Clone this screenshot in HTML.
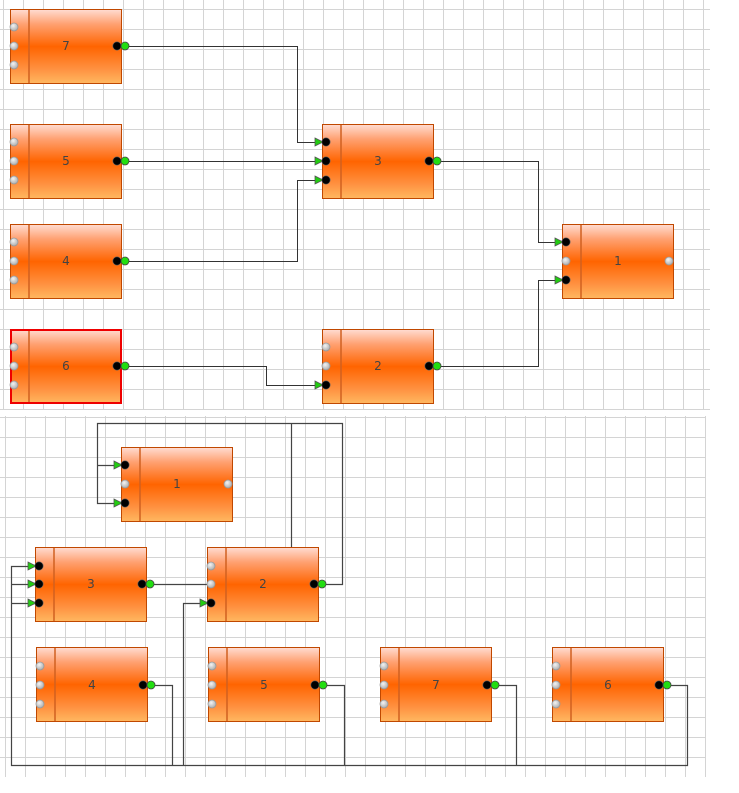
<!DOCTYPE html>
<html><head><meta charset="utf-8"><style>
html,body{margin:0;padding:0;background:#fff;width:739px;height:793px;overflow:hidden}
svg{display:block}
text{font-family:"DejaVu Sans","Liberation Sans",sans-serif;font-size:12px;fill:#444}
</style></head><body>
<svg width="739" height="793" viewBox="0 0 739 793" xmlns="http://www.w3.org/2000/svg">
<defs>
<pattern id="g1" x="3" y="9" width="20" height="20" patternUnits="userSpaceOnUse">
<path d="M0.5 0V20M0 0.5H20" stroke="#d4d4d4" stroke-width="1" fill="none"/>
</pattern>
<pattern id="g2" x="5" y="417" width="20" height="20" patternUnits="userSpaceOnUse">
<path d="M0.5 0V20M0 0.5H20" stroke="#d4d4d4" stroke-width="1" fill="none"/>
</pattern>
<linearGradient id="og" x1="0" y1="0" x2="0" y2="1">
<stop offset="0" stop-color="#ffdcd2"/>
<stop offset="0.2" stop-color="#ffa070"/>
<stop offset="0.5" stop-color="#ff6400"/>
<stop offset="0.8" stop-color="#ff9040"/>
<stop offset="1" stop-color="#ffb860"/>
</linearGradient>
<radialGradient id="gg" cx="0.4" cy="0.35" r="0.7">
<stop offset="0" stop-color="#f4f4f4"/><stop offset="1" stop-color="#a8a8a8"/>
</radialGradient>
<g id="node">
<rect x="0.5" y="0.5" width="111" height="74" fill="url(#og)" stroke="#c04800" stroke-width="1"/>
<line x1="19" y1="1" x2="19" y2="74" stroke="#d06020" stroke-width="1.5"/>
</g>
<circle id="gp" r="4" fill="url(#gg)" stroke="#999" stroke-width="0.8"/>
<circle id="bp" r="4.2" fill="#000" stroke="#666" stroke-width="0.6"/>
<circle id="gr" r="4" fill="#22dd11" stroke="#444" stroke-width="0.8"/>
<path id="ar" d="M-11 -4L-3 0L-11 4Z" fill="#22cc11" stroke="#555" stroke-width="0.8"/>
</defs>

<rect x="0" y="0" width="710" height="410" fill="url(#g1)"/>
<rect x="0" y="416" width="706" height="361" fill="url(#g2)"/>

<g fill="none" stroke="#333" stroke-width="1">
<path d="M125 46.5H297.5V142.5H318"/>
<path d="M125 161.5H318"/>
<path d="M125 261.5H297.5V180.5H318"/>
<path d="M125 366.5H266.5V385.5H318"/>
<path d="M437 161.5H538.5V242.5H558"/>
<path d="M437 366.5H538.5V280.5H558"/>
</g>
<g fill="none" stroke="#444" stroke-width="1.2">
<path d="M322 584.5H342.5V423.5H97.5V503.5H117"/>
<path d="M97 465.5H117"/>
<path d="M291.5 423V547"/>
<path d="M150 584.5H211"/>
<path d="M31 566.5H11.5V765.5H687.5V685.5H667"/>
<path d="M11 584.5H31M11 603.5H31"/>
<path d="M151 685.5H172.5V765"/>
<path d="M203 603.5H183.5V765"/>
<path d="M323 685.5H344.5V765"/>
<path d="M495 685.5H516.5V765"/>
</g>

<use href="#node" x="10" y="9"/><text x="66" y="50" text-anchor="middle">7</text>
<use href="#gp" x="14" y="27"/><use href="#gp" x="14" y="46"/><use href="#gp" x="14" y="65"/>
<use href="#bp" x="117" y="46"/><use href="#gr" x="125" y="46"/>

<use href="#node" x="10" y="124"/><text x="66" y="165" text-anchor="middle">5</text>
<use href="#gp" x="14" y="142"/><use href="#gp" x="14" y="161"/><use href="#gp" x="14" y="180"/>
<use href="#bp" x="117" y="161"/><use href="#gr" x="125" y="161"/>

<use href="#node" x="10" y="224"/><text x="66" y="265" text-anchor="middle">4</text>
<use href="#gp" x="14" y="242"/><use href="#gp" x="14" y="261"/><use href="#gp" x="14" y="280"/>
<use href="#bp" x="117" y="261"/><use href="#gr" x="125" y="261"/>

<use href="#node" x="10" y="329"/><text x="66" y="370" text-anchor="middle">6</text>
<rect x="11" y="330" width="110" height="73" fill="none" stroke="#ee0000" stroke-width="2"/>
<use href="#gp" x="14" y="347"/><use href="#gp" x="14" y="366"/><use href="#gp" x="14" y="385"/>
<use href="#bp" x="117" y="366"/><use href="#gr" x="125" y="366"/>

<use href="#node" x="322" y="124"/><text x="378" y="165" text-anchor="middle">3</text>
<use href="#ar" x="326" y="142"/><use href="#ar" x="326" y="161"/><use href="#ar" x="326" y="180"/>
<use href="#bp" x="326" y="142"/><use href="#bp" x="326" y="161"/><use href="#bp" x="326" y="180"/>
<use href="#bp" x="429" y="161"/><use href="#gr" x="437" y="161"/>

<use href="#node" x="322" y="329"/><text x="378" y="370" text-anchor="middle">2</text>
<use href="#gp" x="326" y="347"/><use href="#gp" x="326" y="366"/>
<use href="#ar" x="326" y="385"/><use href="#bp" x="326" y="385"/>
<use href="#bp" x="429" y="366"/><use href="#gr" x="437" y="366"/>

<use href="#node" x="562" y="224"/><text x="618" y="265" text-anchor="middle">1</text>
<use href="#ar" x="566" y="242"/><use href="#bp" x="566" y="242"/>
<use href="#gp" x="566" y="261"/>
<use href="#ar" x="566" y="280"/><use href="#bp" x="566" y="280"/>
<use href="#gp" x="669" y="261"/>

<use href="#node" x="121" y="447"/><text x="177" y="488" text-anchor="middle">1</text>
<use href="#ar" x="125" y="465"/><use href="#bp" x="125" y="465"/>
<use href="#gp" x="125" y="484"/>
<use href="#ar" x="125" y="503"/><use href="#bp" x="125" y="503"/>
<use href="#gp" x="228" y="484"/>

<use href="#node" x="35" y="547"/><text x="91" y="588" text-anchor="middle">3</text>
<use href="#ar" x="39" y="566"/><use href="#ar" x="39" y="584"/><use href="#ar" x="39" y="603"/>
<use href="#bp" x="39" y="566"/><use href="#bp" x="39" y="584"/><use href="#bp" x="39" y="603"/>
<use href="#bp" x="142" y="584"/><use href="#gr" x="150" y="584"/>

<use href="#node" x="207" y="547"/><text x="263" y="588" text-anchor="middle">2</text>
<use href="#gp" x="211" y="566"/><use href="#gp" x="211" y="584"/>
<use href="#ar" x="211" y="603"/><use href="#bp" x="211" y="603"/>
<use href="#bp" x="314" y="584"/><use href="#gr" x="322" y="584"/>

<use href="#node" x="36" y="647"/><text x="92" y="689" text-anchor="middle">4</text>
<use href="#gp" x="40" y="666"/><use href="#gp" x="40" y="685"/><use href="#gp" x="40" y="704"/>
<use href="#bp" x="143" y="685"/><use href="#gr" x="151" y="685"/>

<use href="#node" x="208" y="647"/><text x="264" y="689" text-anchor="middle">5</text>
<use href="#gp" x="212" y="666"/><use href="#gp" x="212" y="685"/><use href="#gp" x="212" y="704"/>
<use href="#bp" x="315" y="685"/><use href="#gr" x="323" y="685"/>

<use href="#node" x="380" y="647"/><text x="436" y="689" text-anchor="middle">7</text>
<use href="#gp" x="384" y="666"/><use href="#gp" x="384" y="685"/><use href="#gp" x="384" y="704"/>
<use href="#bp" x="487" y="685"/><use href="#gr" x="495" y="685"/>

<use href="#node" x="552" y="647"/><text x="608" y="689" text-anchor="middle">6</text>
<use href="#gp" x="556" y="666"/><use href="#gp" x="556" y="685"/><use href="#gp" x="556" y="704"/>
<use href="#bp" x="659" y="685"/><use href="#gr" x="667" y="685"/>
</svg>
</body></html>
